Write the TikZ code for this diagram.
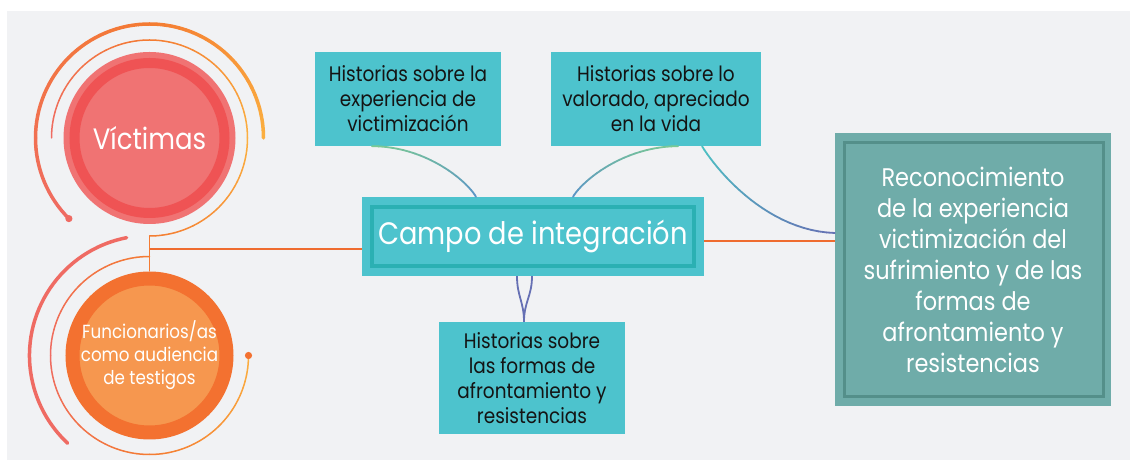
\documentclass[tikz,border=0pt]{standalone}
\usepackage{fontspec}
\setmainfont{Poppins}[FakeStretch=0.88]
\definecolor{bg}{HTML}{F1F2F4}
\definecolor{tealbox}{HTML}{4DC3CD}
\definecolor{tealdk}{HTML}{2BB0B3}
\definecolor{sage}{HTML}{6FACA9}
\definecolor{sagedk}{HTML}{548F8A}
\definecolor{vicl}{HTML}{F07373}
\definecolor{vicd}{HTML}{EF5354}
\definecolor{funo}{HTML}{F37130}
\definecolor{funi}{HTML}{F6974F}
\definecolor{orln}{HTML}{EF6C2F}
\definecolor{yel}{HTML}{FBB040}
\definecolor{ora}{HTML}{F47B32}
\definecolor{sal}{HTML}{EF6B63}
\definecolor{grn}{HTML}{7CCB92}
\definecolor{blu}{HTML}{5A93C8}
\definecolor{cyn}{HTML}{4DC4C4}
\definecolor{pur}{HTML}{6670B4}
\definecolor{txt}{HTML}{141414}
% gradient arc: #1 centre, #2 radius, #3 start, #4 end, #5 width, #6 colour A, #7 colour B
\newcommand{\garc}[7]{%
  \foreach \i in {0,...,23}{%
    \pgfmathsetmacro\sa{#3+(#4-#3)*\i/24}%
    \pgfmathsetmacro\ea{#3+(#4-#3)*(\i+1)/24}%
    \pgfmathtruncatemacro\pc{100*(\i+0.5)/24}%
    \draw[line width=#5, line cap=round, color=#7!\pc!#6] ([shift={(\sa:#2)}]#1) arc[start angle=\sa, end angle=\ea, radius=#2];
  }}
% gradient curve: #1 path, #2 width, #3 colour A, #4 colour B
\newcommand{\gcurve}[4]{%
  \path #1 \foreach \k [evaluate=\k as \t using \k/24] in {0,...,24}{coordinate[pos=\t] (g\k)};
  \foreach \k [evaluate=\k as \kk using int(\k+1), evaluate=\k as \pc using int(100*(\k+0.5)/24)] in {0,...,23}
    \draw[line width=#2, line cap=round, color=#4!\pc!#3] (g\k) -- (g\kk);
}
\tikzset{
  hbox/.style={rectangle, fill=tealbox, text=txt, align=center, inner sep=0pt,
    font=\fontsize{21}{25}\selectfont},
  orline/.style={orln, line width=2},
  bluecurve/.style={pur, line width=1.8}
}
\begin{document}
\begin{tikzpicture}[x=1pt,y=1pt]
\useasboundingbox (0,0) rectangle (1130,460);
\fill[bg] (7,0) rectangle (1130,449);

% Victimas
\coordinate (vc) at (149.5,322);
\fill[vicl] (vc) circle[radius=86];
\node[circle, fill=vicl, draw=vicd, line width=10, minimum size=150, inner sep=0pt,
  text=white, font=\fontsize{29.5}{34}\selectfont] (vic) at (vc) {Víctimas};
\garc{vc}{114}{0}{90}{3.5}{yel}{ora}
\garc{vc}{114}{90}{225}{3.5}{ora}{sal}
\fill[sal] ([shift={(225:114)}]vc) circle[radius=3.6];
\garc{vc}{98}{180}{90}{1.5}{sal}{ora}
\garc{vc}{98}{90}{0}{1.5}{ora}{yel}
\garc{vc}{98}{0}{-90}{1.5}{yel}{ora}

% Funcionarios
\coordinate (fc) at (149.5,104.5);
\node[circle, fill=funi, draw=funo, line width=14, minimum size=154, inner sep=0pt,
  text=white, align=center, font=\fontsize{19}{23}\selectfont] (fun) at (fc)
  {Funcionarios/as\\como audiencia\\de testigos};
\draw[sal, line width=3.5, line cap=round] ([shift={(101:120)}]fc) arc[start angle=101, end angle=227, radius=120];
\garc{fc}{99}{90}{180}{1.5}{ora}{sal}
\garc{fc}{99}{180}{270}{1.5}{sal}{ora}
\garc{fc}{99}{270}{360}{1.5}{ora}{yel}
\fill[funo] ([shift={(0:99)}]fc) circle[radius=3.6];

% central box
\node[rectangle, fill=tealbox, minimum width=342, minimum height=79, inner sep=0pt,
  text=white, font=\fontsize{31}{36}\selectfont] (campo) at (533,223.5) {Campo de integración};
\draw[tealdk, line width=3.5] ([shift={(10,10)}]campo.south west) rectangle ([shift={(-10,-10)}]campo.north east);

% story boxes
\node[hbox, minimum width=186, minimum height=94] (b1) at (408,361)
  {Historias sobre la\\experiencia de\\victimización};
\node[hbox, minimum width=210, minimum height=94] (b2) at (656,361)
  {Historias sobre lo\\valorado, apreciado\\en la vida};
\node[hbox, minimum width=186, minimum height=112] (b3) at (532,82)
  {Historias sobre\\las formas de\\afrontamiento y\\resistencias};

% result box
\node[rectangle, fill=sage, minimum width=276, minimum height=273, inner sep=0pt,
  text=white, align=center, font=\fontsize{25.5}{31}\selectfont] (reco) at (973,190.5)
  {Reconocimiento\\de la experiencia\\victimización del\\sufrimiento y de las\\formas de\\afrontamiento y\\resistencias};
\draw[sagedk, line width=3] ([shift={(10,10)}]reco.south west) rectangle ([shift={(-8,-10)}]reco.north east);

% connectors
\coordinate (jv) at ([yshift=-98]vc);
\draw[ora, line width=1.5] (jv) -- (fun.north);
\coordinate (jh) at (149.5,211);
\draw[orline] (jh) -- (jh -| campo.west);
\draw[orline] ([yshift=-4.5]campo.east) -- ([yshift=-4.5]campo.east -| reco.west);

\gcurve{([xshift=-36]b1.south) .. controls +(53,0) and +(-10,17) .. ([xshift=-57]campo.north)}{1.8}{grn}{blu}
\gcurve{([xshift=22]b2.south) .. controls +(-53,0) and +(10,17) .. ([xshift=40]campo.north)}{1.8}{grn}{blu}
\gcurve{([xshift=46]b2.south) .. controls +(18,-29) and +(-65,2) .. ([yshift=36.5]reco.west)}{1.8}{cyn}{pur}
\draw[bluecurve] ([xshift=-16]campo.south) .. controls +(0,-20) and +(0,20) .. ([xshift=-8]b3.north);
\draw[bluecurve] ([xshift=-1]campo.south) .. controls +(0,-20) and +(0,20) .. ([xshift=-8]b3.north);
\end{tikzpicture}
\end{document}
